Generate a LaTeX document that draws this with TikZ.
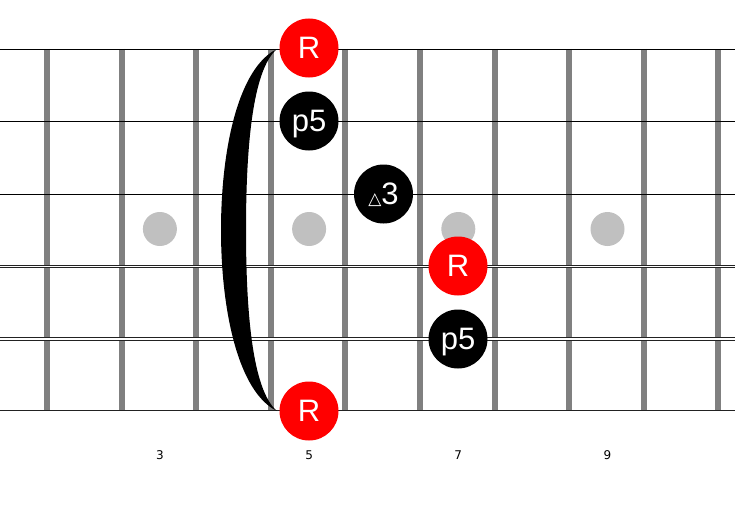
\documentclass[tikz,border=0pt]{standalone}
\usepackage{fontspec}
\setmainfont{Liberation Sans}
\newfontfamily\numfont{DejaVu Sans}
\newfontfamily\symfont{DejaVu Sans}
\definecolor{fretgray}{HTML}{808080}
\definecolor{inlaygray}{HTML}{C0C0C0}
\definecolor{rootred}{HTML}{FF0000}
\definecolor{strdark}{HTML}{222222}
\tikzset{
  fretbar/.style={draw=fretgray, line width=6pt},
  thinstring/.style={draw=black, line width=0.9pt},
  thickstring/.style={draw=strdark, line width=0.9pt, double=white},
  inlay/.style={circle, fill=inlaygray, minimum size=34pt, inner sep=0pt},
  note/.style={circle, minimum size=59pt, inner sep=0pt, text=white,
    font=\fontsize{31}{31}\selectfont, text depth=0pt},
  rootnote/.style={note, fill=rootred},
  othernote/.style={note, fill=black},
  fretnum/.style={font=\numfont\fontsize{12}{12}\selectfont, text=black}
}
\begin{document}
\begin{tikzpicture}[x=1pt,y=-1pt]
\useasboundingbox (0,0) rectangle (735,519);
\fill[white] (0,0) rectangle (735,519);
% frets
\foreach \k in {0,...,9} {
  \draw[fretbar] ({47+74.6*\k},49) -- ({47+74.6*\k},411);
}
% strings
\draw[thinstring] (0,49.3) -- (735,49.3);
\draw[thinstring] (0,121) -- (735,121);
\draw[thinstring] (0,194.3) -- (735,194.3);
\draw[thickstring, double distance=1.1pt] (0,266.3) -- (735,266.3);
\draw[thickstring, double distance=1.7pt] (0,339) -- (735,339);
\draw[thickstring, double distance=2.4pt] (0,412.3) -- (735,412.3);
% inlays
\node[inlay] (d3) at (159.9,229) {};
\node[inlay] (d5) at (309.1,229) {};
\node[inlay] (d7) at (458.3,229) {};
\node[inlay] (d9) at (607.5,229) {};
% bracket
\fill[black] (277,49) .. controls (238,68) and (221,150) .. (221,230)
  .. controls (221,310) and (238,392) .. (277,411)
  .. controls (252,390) and (246,310) .. (246,230)
  .. controls (246,150) and (252,70) .. (277,49) -- cycle;
% notes
\node[rootnote] (r1) at (309,48) {R};
\node[othernote] (p1) at (309,121) {p5};
\node[othernote] (t1) at (383.5,194) {{\symfont\fontsize{17}{17}\selectfont △}3};
\node[rootnote] (r2) at (458,266) {R};
\node[othernote] (p2) at (458,339) {p5};
\node[rootnote] (r3) at (309,411) {R};
% fret numbers
\node[fretnum] (n3) at (159.9,455) {3};
\node[fretnum] (n5) at (309.1,455) {5};
\node[fretnum] (n7) at (458.3,455) {7};
\node[fretnum] (n9) at (607.5,455) {9};
\end{tikzpicture}
\end{document}
